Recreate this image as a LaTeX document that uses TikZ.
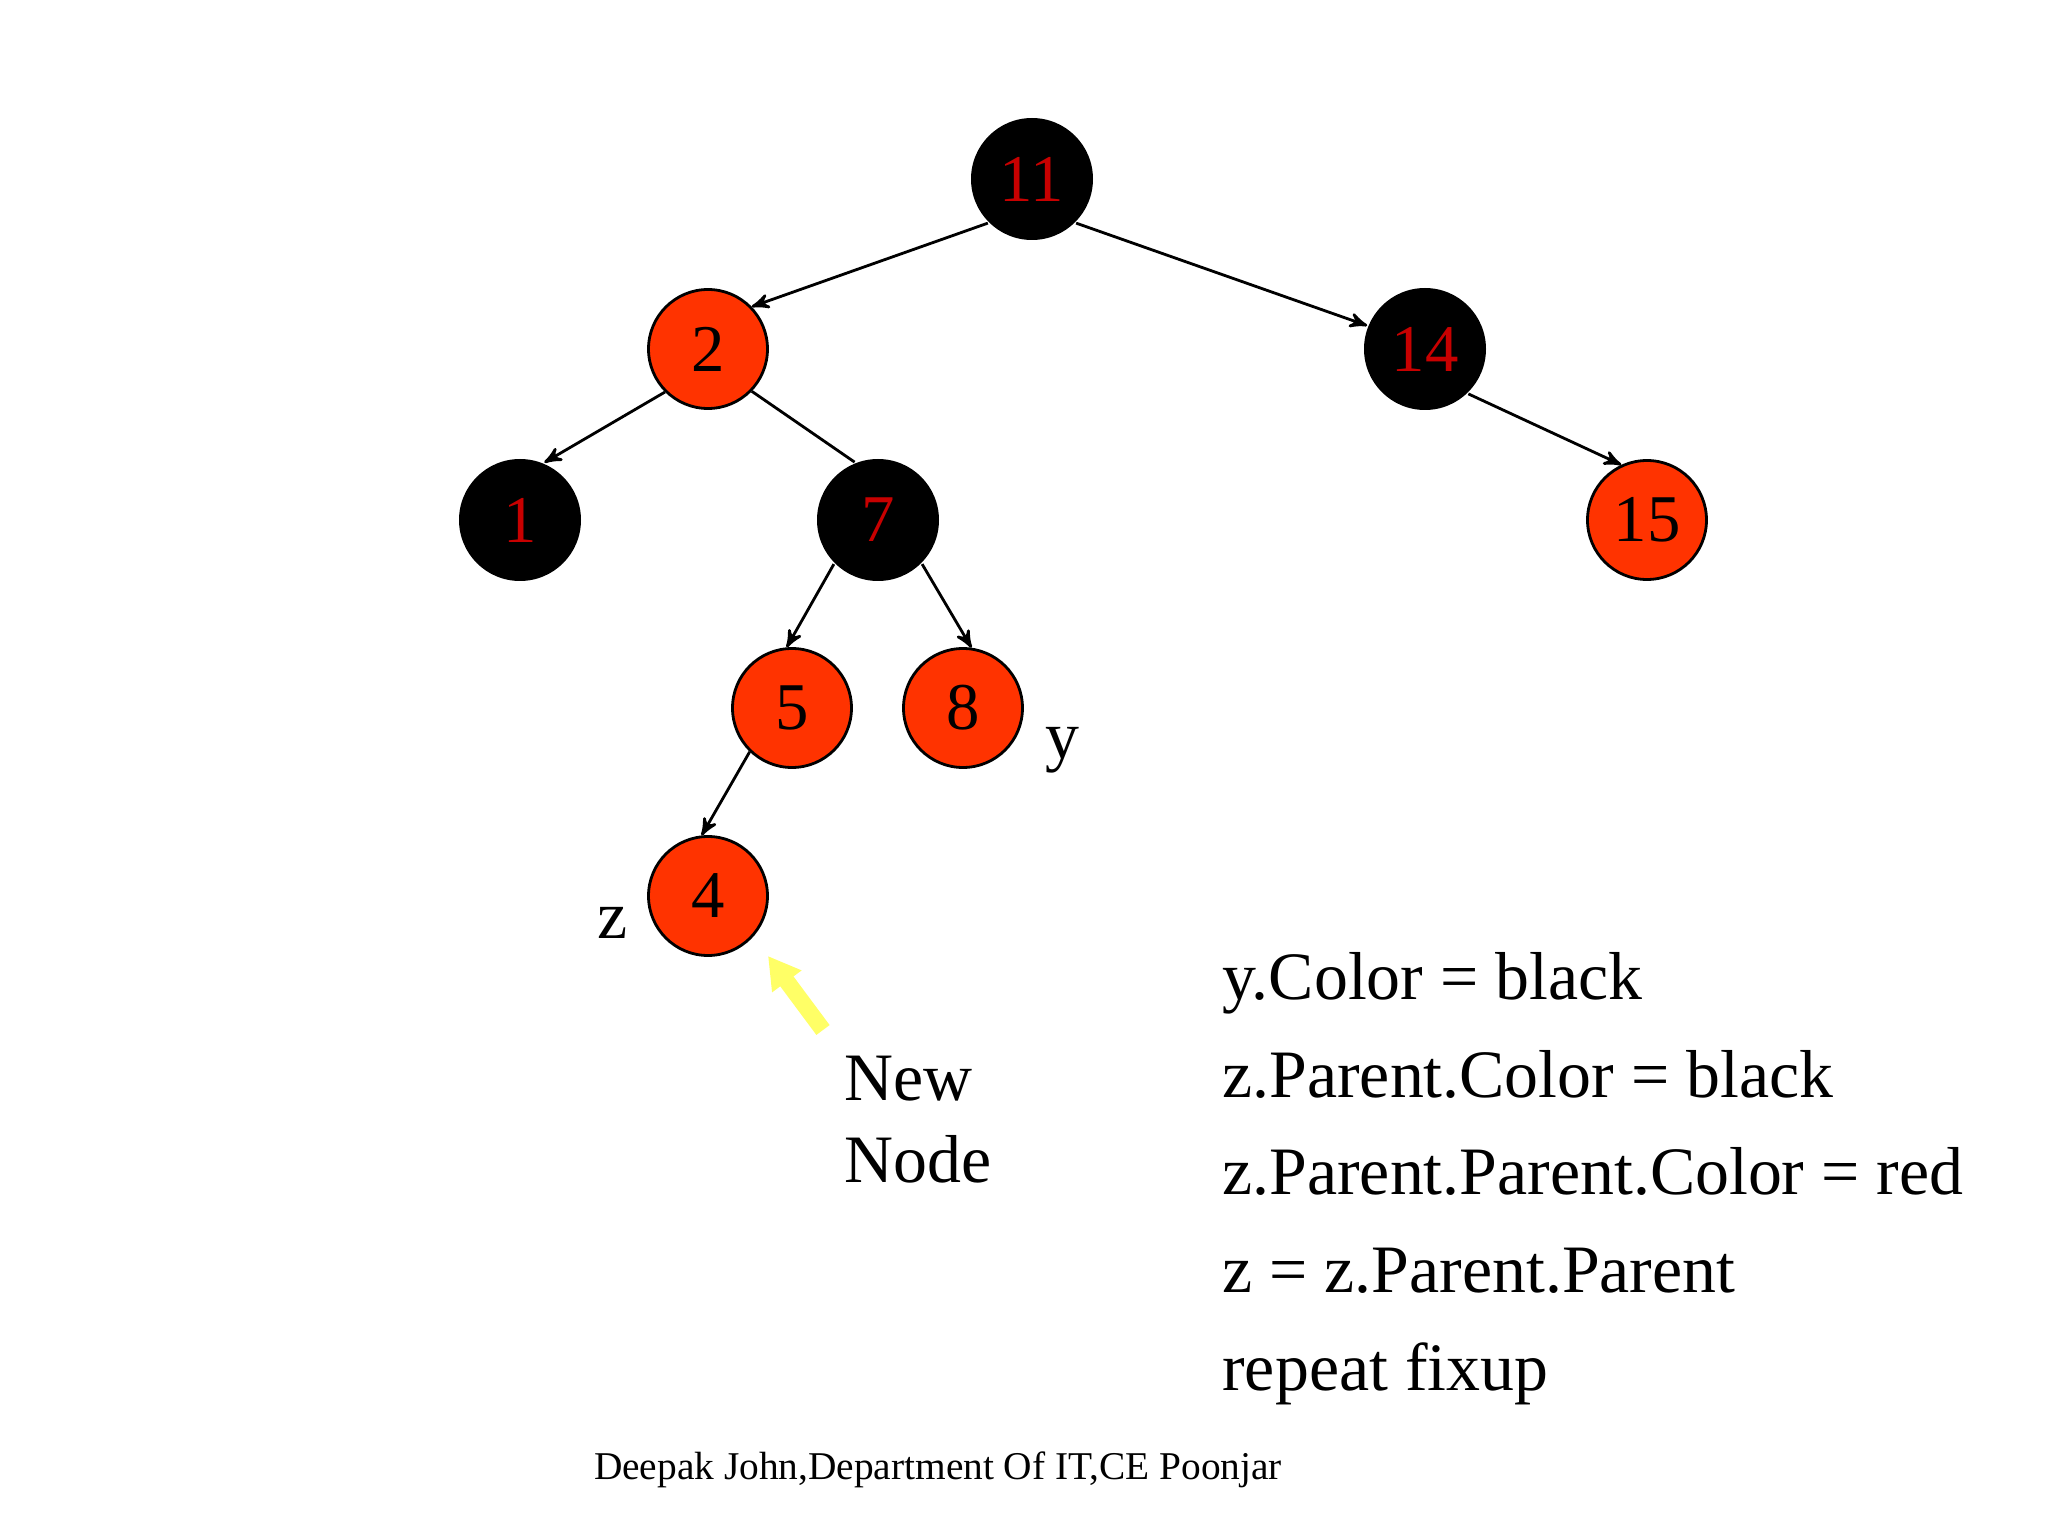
\documentclass[tikz,border=0pt]{standalone}
\usepackage{fontspec}
\setmainfont{Liberation Serif}
\usepackage{tikz}
\usetikzlibrary{arrows,arrows.meta,positioning}
\definecolor{nodered}{RGB}{255,51,0}
\definecolor{numred}{RGB}{200,0,0}
\definecolor{newyellow}{RGB}{255,255,102}
\tikzset{
    %Define standard arrow tip
    >=stealth',
    %Define style for tree nodes
    rednode/.style={
           circle,
           draw=black, line width=0.8pt,
           minimum size=1.19cm,
           inner sep=0pt,
           font=\fontsize{19}{23}\selectfont,
           text=black,
           fill=nodered},
    blacknode/.style={
           circle,
           minimum size=1.22cm,
           inner sep=0pt,
           font=\fontsize{19}{23}\selectfont,
           text=numred,
           fill=black},
    lbl/.style={
           inner sep=0pt,
           font=\fontsize{19.3}{23.2}\selectfont},
    % Define arrow style
    newarrow/.style={
           -{Triangle[length=9pt,width=9.8pt]},
           line width=4.7pt,
           draw=newyellow}
}
\begin{document}
\begin{tikzpicture}[->,>=stealth',thick,node distance=1cm,on grid]
\useasboundingbox (0,0) rectangle (20.48,-15.36);
 %nodes
\node[blacknode] (n11) at (10.32,-1.79) {11};
\node[rednode, below left=1.70cm and 3.24cm of n11] (n2) {2};
\node[blacknode, below right=1.70cm and 3.93cm of n11] (n14) {14};
\node[blacknode, below left=1.71cm and 1.88cm of n2] (n1) {1};
\node[blacknode, below right=1.71cm and 1.70cm of n2] (n7) {7};
\node[rednode, below right=1.71cm and 2.22cm of n14] (n15) {15};
\node[rednode, below left=1.88cm and 0.86cm of n7] (n5) {5};
\node[rednode, below right=1.88cm and 0.85cm of n7] (n8) {8};
\node[rednode, below left=1.88cm and 0.84cm of n5] (n4) {4};
 %labels
\node[lbl, anchor=base] (ylbl) at (10.62,-7.58) {y};
\node[lbl, anchor=base] (zlbl) at (6.13,-9.38) {z};
\node[lbl, anchor=north west, align=left] (newlbl) at (8.43,-10.55) {New\\Node};
\node[lbl, anchor=north west, align=left, font=\fontsize{19.3}{27.8}\selectfont] (fixup) at (12.21,-9.51)
  {y.Color = black\\z.Parent.Color = black\\z.Parent.Parent.Color = red\\z = z.Parent.Parent\\repeat fixup};
\node[inner sep=0pt, anchor=base, font=\fontsize{11.2}{13}\selectfont] (credit) at (9.38,-14.79)
  {Deepak John,Department Of IT,CE Poonjar};
 %edges
\path (n11.225) edge (n2.44)
      (n11.315) edge (n14.158)
      (n2.225) edge (n1.67)
      (n2.316) edge[-] (n7.112)
      (n14.314) edge (n15.115)
      (n7.225) edge (n5.95)
      (n7.315) edge (n8.82)
      (n5.226) edge (n4.96);
\coordinate (newtail) at (8.23,-10.30);
\coordinate (newtip) at (7.68,-9.56);
\draw[newarrow] (newtail) -- (newtip);
\end{tikzpicture}
\end{document}
